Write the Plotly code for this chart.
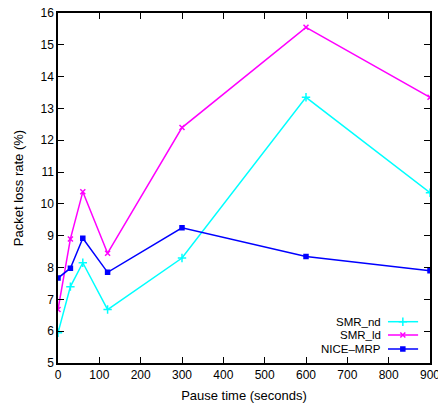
import plotly.graph_objects as go

pause = [0, 30, 60, 120, 300, 600, 900]
smr_nd = [5.95, 7.4, 8.15, 6.68, 8.3, 13.35, 10.35]
smr_ld = [6.68, 8.9, 10.38, 8.45, 12.4, 15.55, 13.35]
nice_mrp = [7.67, 7.98, 8.92, 7.85, 9.25, 8.35, 7.9]

names = ["SMR_nd", "SMR_ld", "NICE\u2013MRP"]
colors = ["#00ffff", "#ff00ff", "#0000ff"]
symbols = ["cross-thin-open", "x-thin-open", "square"]
sizes = [6, 5, 4]
series = [smr_nd, smr_ld, nice_mrp]

FONT = "Liberation Sans, Arial, sans-serif"
FS = 11

fig = go.Figure()
for n, c, s, sz, y in zip(names, colors, symbols, sizes, series):
    fig.add_trace(go.Scatter(
        x=pause, y=y, name=n, mode="lines+markers",
        line=dict(color=c, width=1.5),
        marker=dict(symbol=s, size=sz, color=c, line=dict(color=c, width=1.5)),
        showlegend=False,
    ))

# manual legend (text right-aligned, sample on the right)
ly = [0.118, 0.08, 0.04]
for n, c, s, sz, yy in zip(names, colors, symbols, sizes, ly):
    fig.add_annotation(x=0.874, y=yy, xref="paper", yref="paper", text=n,
                       showarrow=False, xanchor="right", yanchor="middle",
                       font=dict(size=FS + 0.5, color="black", family=FONT))
    fig.add_shape(type="line", xref="paper", yref="paper",
                  x0=0.887, x1=0.968, y0=yy, y1=yy,
                  line=dict(color=c, width=1.5))
    fig.add_trace(go.Scatter(x=[0.927], y=[yy], xaxis="x2", yaxis="y2",
                             mode="markers", showlegend=False, hoverinfo="skip",
                             marker=dict(symbol=s, size=sz, color=c,
                                         line=dict(color=c, width=1.5))))

axis_common = dict(showline=True, linecolor="black", linewidth=1.5, mirror="ticks",
                   ticks="inside", ticklen=6, tickcolor="black", showgrid=False,
                   zeroline=False, tickfont=dict(size=FS + 1, color="black", family=FONT),
                   ticklabeloverflow="allow", automargin=False)

fig.update_layout(
    width=438, height=411,
    margin=dict(l=58, r=8, t=13, b=48),
    paper_bgcolor="white", plot_bgcolor="white",
    font=dict(family=FONT, size=FS, color="black"),
    xaxis=dict(range=[0, 900], dtick=100, title=dict(text="Pause time (seconds)", standoff=10),
               **axis_common),
    yaxis=dict(range=[5, 16], dtick=1, title=dict(text="Packet loss rate (%)", standoff=14),
               **axis_common),
    xaxis2=dict(range=[0, 1], overlaying="x", visible=False),
    yaxis2=dict(range=[0, 1], overlaying="y", visible=False),
)

fig.write_html("out.html")
